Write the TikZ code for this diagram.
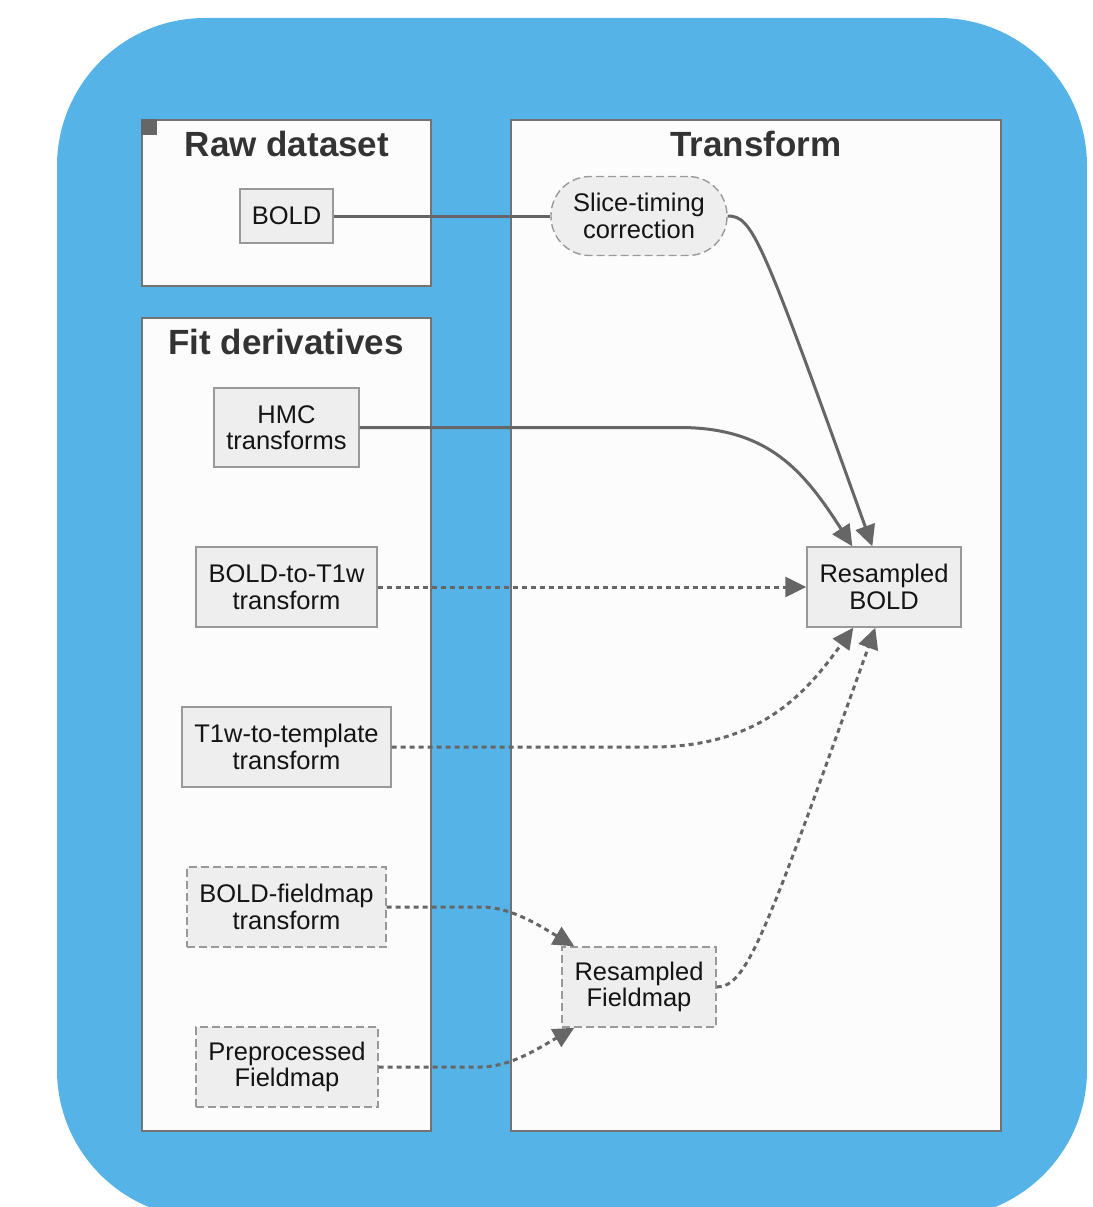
\documentclass[tikz,border=0pt]{standalone}
\usepackage{fontspec}
\setmainfont{Liberation Sans}
\usetikzlibrary{arrows.meta,calc}
\definecolor{bgblue}{HTML}{56B3E7}
\definecolor{edgec}{HTML}{666666}
\definecolor{nodefill}{HTML}{EEEEEE}
\definecolor{clfill}{HTML}{FCFCFC}
\tikzset{
  cluster/.style={draw=black!55, line width=1.6pt, fill=clfill},
  cltitle/.style={font=\fontsize{35}{40}\selectfont\bfseries, text=black!80, inner sep=0pt},
  nbox/.style={draw=black!40, line width=1.4pt, fill=nodefill, align=center, inner sep=0pt,
    font=\fontsize{25.5}{26.5}\selectfont, text=black!92},
  dbox/.style={nbox, dash pattern=on 8pt off 4pt},
  solidedge/.style={draw=edgec, line width=3pt},
  dotedge/.style={draw=edgec, line width=3pt, dash pattern=on 5pt off 4pt},
  tip/.style={-{Triangle[length=21pt,width=20pt]}},
}
\begin{document}
\begin{tikzpicture}[x=1pt,y=-1pt]
\useasboundingbox (0,0) rectangle (1092,1207);
\begin{scope}
\clip (0,0) rectangle (1092,1207);
\fill[bgblue, rounded corners=148pt] (57,18) rectangle (1087,1218);
\end{scope}
% clusters
\node[cluster, minimum width=289pt, minimum height=166pt, inner sep=0pt] (raw) at (286.5,203) {};
\node[cluster, minimum width=289pt, minimum height=813pt, inner sep=0pt] (fit) at (286.5,724.5) {};
\node[cluster, minimum width=490pt, minimum height=1011pt, inner sep=0pt] (tr) at (756,625.5) {};
\fill[edgec] (raw.north west) rectangle ++(16,16);
\node[cltitle] (rawt) at (287,144) {Raw dataset};
\node[cltitle] (fitt) at (286,342) {Fit derivatives};
\node[cltitle] (trt) at (756,144) {Transform};
% nodes
\node[nbox, minimum width=93pt, minimum height=54pt] (bold) at (286.5,216) {BOLD};
\node[dbox, rounded corners=39pt, minimum width=176pt, minimum height=79pt] (stc) at (639,216) {Slice-timing\\correction};
\node[nbox, minimum width=145pt, minimum height=79pt] (hmc) at (286.5,427.5) {HMC\\transforms};
\node[nbox, minimum width=181pt, minimum height=80pt] (b2t) at (286.5,587) {BOLD-to-T1w\\transform};
\node[nbox, minimum width=209pt, minimum height=80pt] (t2t) at (286.5,747) {T1w-to-template\\transform};
\node[dbox, minimum width=199pt, minimum height=80pt] (bfm) at (286.5,907) {BOLD-fieldmap\\transform};
\node[dbox, minimum width=182pt, minimum height=80pt] (pfm) at (287,1067) {Preprocessed\\Fieldmap};
\node[nbox, minimum width=154pt, minimum height=80pt] (rb) at (884,587) {Resampled\\BOLD};
\node[dbox, minimum width=154pt, minimum height=80pt] (rf) at (639,987) {Resampled\\Fieldmap};
% edges
\draw[solidedge] (bold.east) -- (stc.west);
\draw[solidedge, tip] (stc.east) .. controls ($(stc.east)+(25,0)$) and ($(stc.east)+(33,20)$) .. ($(rb.north west)+(66,0)$);
\draw[solidedge, tip] (hmc.east) -- ($(hmc.east)+(320,0)$) .. controls ($(hmc.east)+(410,0)$) and ($(hmc.east)+(445,45)$) .. ($(rb.north west)+(46,0)$);
\draw[dotedge, tip] (b2t.east) -- (rb.west);
\draw[dotedge, tip] (t2t.east) -- ($(t2t.east)+(260,0)$) .. controls ($(t2t.east)+(370,0)$) and ($(t2t.east)+(415,-55)$) .. ($(rb.south west)+(47,0)$);
\draw[dotedge, tip] (rf.east) .. controls ($(rf.east)+(30,0)$) and ($(rf.east)+(48,-50)$) .. ($(rb.south west)+(69,0)$);
\draw[dotedge, tip] (bfm.east) -- ($(bfm.east)+(95,0)$) .. controls ($(bfm.east)+(125,0)$) and ($(bfm.east)+(155,20)$) .. ($(rf.north west)+(13,0)$);
\draw[dotedge, tip] (pfm.east) -- ($(pfm.east)+(102,0)$) .. controls ($(pfm.east)+(132,0)$) and ($(pfm.east)+(162,-20)$) .. ($(rf.south west)+(13,0)$);
\end{tikzpicture}
\end{document}
